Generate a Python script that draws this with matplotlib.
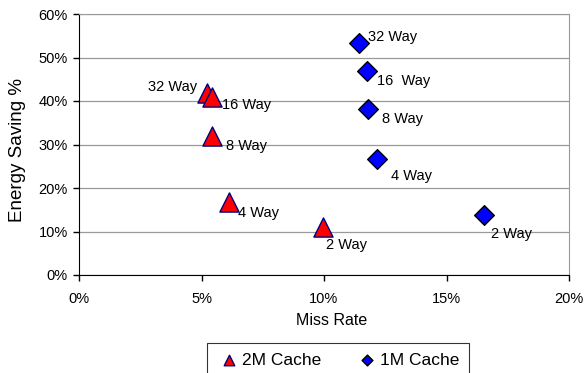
import numpy as np
import matplotlib.pyplot as plt
from matplotlib.ticker import PercentFormatter

plt.rcParams['font.family'] = ['Liberation Sans', 'DejaVu Sans']

# 2M cache: miss rate (%) vs energy saving (%)
ways_2m = ['32 Way', '16 Way', '8 Way', '4 Way', '2 Way']
miss_2m = [5.22, 5.42, 5.43, 6.13, 9.96]
save_2m = [41.8, 41.0, 32.0, 16.8, 11.0]

# 1M cache
ways_1m = ['32 Way', '16  Way', '8 Way', '4 Way', '2 Way']
miss_1m = [11.43, 11.76, 11.8, 12.16, 16.53]
save_1m = [53.3, 46.9, 38.2, 26.7, 13.8]

# label offsets in pixels (dx, dy, alignment)
off_2m = [(-10, 6, 'right'), (10, -8, 'left'), (14, -10, 'left'), (9, -11, 'left'), (3, -18, 'left')]
off_1m = [(9, 6, 'left'), (10, -10, 'left'), (14, -10, 'left'), (14, -17, 'left'), (7, -19, 'left')]

fig = plt.figure(figsize=(5.84, 3.73), dpi=100)
ax = fig.add_axes([79/584, 1-275/373, 490/584, 261/373])

ax.scatter(miss_2m, save_2m, marker='^', s=190, c='red', edgecolors='navy', linewidths=1, zorder=3, label='2M Cache')
ax.scatter(miss_1m, save_1m, marker='D', s=100, c='blue', edgecolors='black', linewidths=1, zorder=3, label='1M Cache')

for x, y, t, (dx, dy, ha) in zip(miss_2m, save_2m, ways_2m, off_2m):
    ax.annotate(t, (x, y), xytext=(dx, dy), textcoords='offset pixels', ha=ha, va='center', fontsize=10.5)
for x, y, t, (dx, dy, ha) in zip(miss_1m, save_1m, ways_1m, off_1m):
    ax.annotate(t, (x, y), xytext=(dx, dy), textcoords='offset pixels', ha=ha, va='center', fontsize=10.5)

ax.set_xlim(0, 20)
ax.set_ylim(0, 60)
ax.set_xticks(np.arange(0, 21, 5))
ax.set_yticks(np.arange(0, 61, 10))
ax.xaxis.set_major_formatter(PercentFormatter(decimals=0))
ax.yaxis.set_major_formatter(PercentFormatter(decimals=0))
ax.tick_params(labelsize=10.5, length=4, width=1)
ax.tick_params(axis='x', pad=8)
ax.tick_params(axis='y', pad=4)
ax.grid(axis='y', color='#999999', linewidth=0.9)
ax.set_axisbelow(True)
ax.spines['left'].set_color('black')
ax.spines['bottom'].set_color('black')
ax.spines['top'].set_color('#999999')
ax.spines['right'].set_color('#999999')

ax.set_xlabel('Miss Rate', fontsize=11.5)
ax.set_ylabel('Energy Saving %', fontsize=13.5)
ax.xaxis.set_label_coords(0.516, -0.145)
ax.yaxis.set_label_coords(-0.108, 0.48)

leg = ax.legend(loc='upper center', bbox_to_anchor=(338/584, 1-343/373), bbox_transform=fig.transFigure,
                ncol=2, fontsize=12.5, frameon=True, fancybox=False, edgecolor='black',
                handletextpad=0.05, columnspacing=1.9, borderpad=0.55, borderaxespad=0,
                markerscale=0.55, handlelength=1.4)
leg.get_frame().set_linewidth(0.8)

fig.savefig('out.png', dpi=100)
